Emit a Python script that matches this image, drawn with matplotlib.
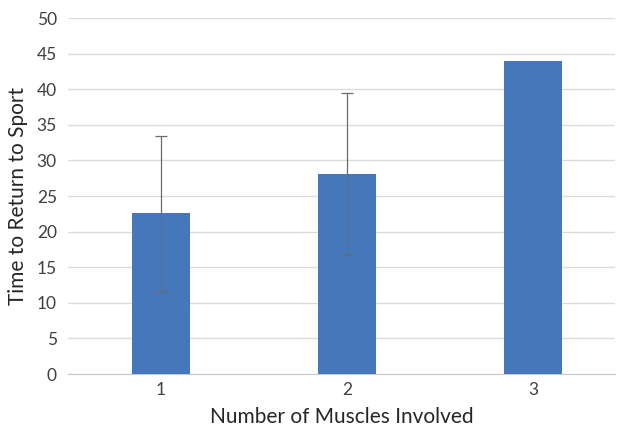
import matplotlib
matplotlib.use("Agg")
import matplotlib.pyplot as plt

categories = ["1", "2", "3"]
values = [22.6, 28.1, 44.0]
errors = [10.9, 11.4, 0.0]
yticks = [0, 5, 10, 15, 20, 25, 30, 35, 40, 45, 50]

plt.rcParams['font.family'] = ['Lato', 'DejaVu Sans']

fig = plt.figure(figsize=(6.21, 4.29), dpi=100)
ax = fig.add_axes([0.1095, 0.128, 0.8808, 0.83])
x = list(range(len(categories)))
ax.bar(x, values, width=0.31, color="#4677BA", zorder=3)
xe = [xi for xi, e in zip(x, errors) if e > 0]
ve = [v for v, e in zip(values, errors) if e > 0]
ee = [e for e in errors if e > 0]
ax.errorbar(xe, ve, yerr=ee, fmt="none", ecolor="#6b6b6b", elinewidth=0.9,
            capsize=4, capthick=0.9, zorder=4)
ax.set_xlim(-0.5, 2.44)
ax.set_ylim(0, 50)
ax.set_yticks(yticks)
ax.set_xticks(x)
ax.set_xticklabels(categories)
ax.yaxis.grid(True, color="#dcdcdc", linewidth=1.0, zorder=0)
for s in ["top", "right", "left"]:
    ax.spines[s].set_visible(False)
ax.spines["bottom"].set_color("#c8c8c8")
ax.tick_params(axis="both", length=0, labelsize=12.5, colors="#404040", pad=8)
ax.tick_params(axis="x", pad=6)
ax.set_xlabel("Number of Muscles Involved", fontsize=15, color="#262626", labelpad=6)
ax.set_ylabel("Time to Return to Sport", fontsize=15, color="#262626", labelpad=6)
fig.savefig("out.png", dpi=100)
